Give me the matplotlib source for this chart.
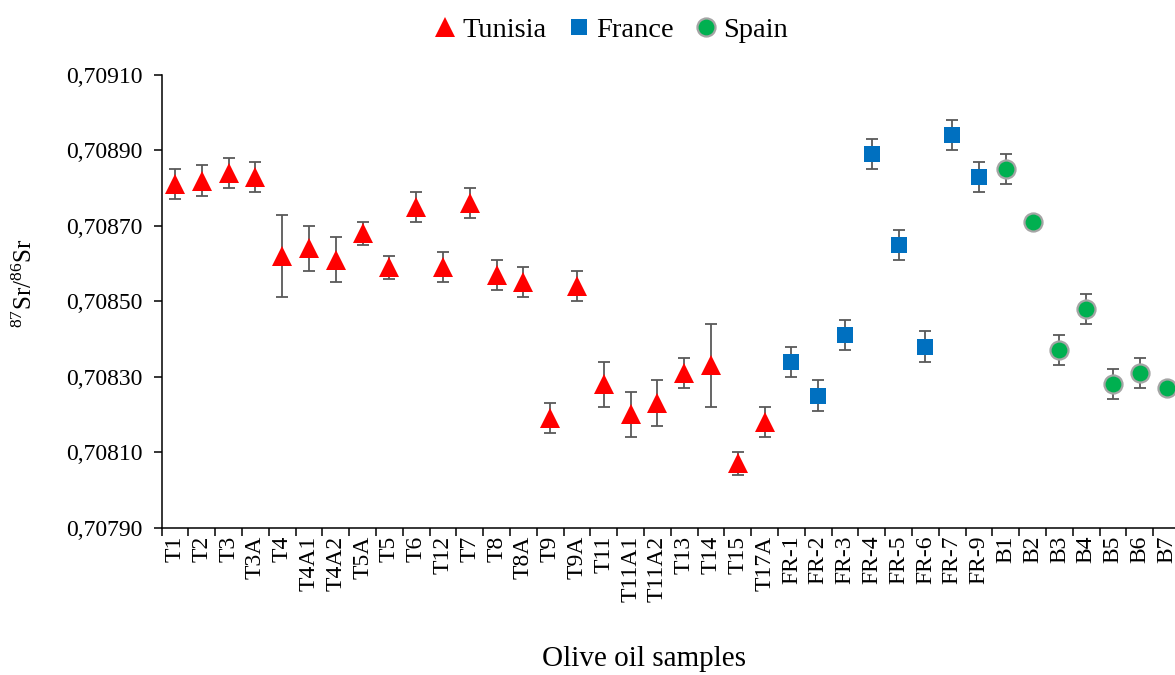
import matplotlib.pyplot as plt
import numpy as np

plt.rcParams['font.family'] = ['Liberation Serif', 'DejaVu Serif']

tun_labels = ["T1", "T2", "T3", "T3A", "T4", "T4A1", "T4A2", "T5A", "T5", "T6", "T12", "T7",
              "T8", "T8A", "T9", "T9A", "T11", "T11A1", "T11A2", "T13", "T14", "T15", "T17A"]
tun_vals = [0.70881, 0.70882, 0.70884, 0.70883, 0.70862, 0.70864, 0.70861, 0.70868, 0.70859,
            0.70875, 0.70859, 0.70876, 0.70857, 0.70855, 0.70819, 0.70854, 0.70828, 0.70820,
            0.70823, 0.70831, 0.70833, 0.70807, 0.70818]
tun_err = [0.00004, 0.00004, 0.00004, 0.00004, 0.00011, 0.00006, 0.00006, 0.00003, 0.00003,
           0.00004, 0.00004, 0.00004, 0.00004, 0.00004, 0.00004, 0.00004, 0.00006, 0.00006,
           0.00006, 0.00004, 0.00011, 0.00003, 0.00004]

fr_labels = ["FR-1", "FR-2", "FR-3", "FR-4", "FR-5", "FR-6", "FR-7", "FR-9"]
fr_vals = [0.70834, 0.70825, 0.70841, 0.70889, 0.70865, 0.70838, 0.70894, 0.70883]
fr_err = [0.00004] * 8

sp_labels = ["B1", "B2", "B3", "B4", "B5", "B6", "B7"]
sp_vals = [0.70885, 0.70871, 0.70837, 0.70848, 0.70828, 0.70831, 0.70827]
sp_err = [0.00004, 0.0, 0.00004, 0.00004, 0.00004, 0.00004, 0.0]

labels = tun_labels + fr_labels + sp_labels
n = len(labels)
x_tun = np.arange(len(tun_labels))
x_fr = np.arange(len(fr_labels)) + len(tun_labels)
x_sp = np.arange(len(sp_labels)) + len(tun_labels) + len(fr_labels)

fig = plt.figure(figsize=(11.75, 6.75), dpi=100)
ax = fig.add_axes([0.1376, 0.2185, 0.8667, 0.6704])

err_kw = dict(fmt='none', ecolor='#595959', elinewidth=1.3, capsize=4.5, capthick=1.3, zorder=2)
ax.errorbar(x_tun, tun_vals, yerr=tun_err, **err_kw)
ax.errorbar(x_fr, fr_vals, yerr=fr_err, **err_kw)
ax.errorbar(x_sp, sp_vals, yerr=sp_err, **err_kw)

ax.plot(x_tun, tun_vals, '^', color='#FF0000', markersize=14, markeredgewidth=0, zorder=3, label='Tunisia')
ax.plot(x_fr, fr_vals, 's', color='#0070C0', markersize=11, markeredgewidth=0, zorder=3, label='France')
ax.plot(x_sp, sp_vals, 'o', color='#00B050', markeredgecolor='#A5A5A5', markersize=13,
        markeredgewidth=1.6, zorder=3, label='Spain')

ax.set_xlim(-0.5, n - 0.5)
ax.set_ylim(0.70790, 0.70910)
yt = np.arange(0.70790, 0.709101, 0.0002)
ax.set_yticks(yt)
ax.set_yticklabels([f"{v:.5f}".replace('.', ',') for v in yt])

# tick marks between categories, labels in the middle
ax.set_xticks(np.arange(n + 1) - 0.5)
ax.set_xticklabels([])
ax.set_xticks(np.arange(n), minor=True)
ax.set_xticklabels(labels, minor=True, rotation=90)
ax.tick_params(axis='x', which='minor', length=0, pad=6, labelsize=17)
ax.tick_params(axis='x', which='major', length=6, width=1.1, direction='out')
ax.tick_params(axis='y', length=6, width=1.1, labelsize=17, pad=8)

for s in ['top', 'right']:
    ax.spines[s].set_visible(False)
for s in ['left', 'bottom']:
    ax.spines[s].set_linewidth(1.1)

ax.set_ylabel(r"$\mathregular{^{87}}$Sr/$\mathregular{^{86}}$Sr", fontsize=18)
ax.yaxis.set_label_coords(-0.1225, 0.54)
fig.text(0.548, 0.024, "Olive oil samples", fontsize=21, ha='center', va='center')

fig.legend(loc='center', bbox_to_anchor=(0.52, 0.956), ncol=3, frameon=False, fontsize=20.5,
           handlelength=0.8, handletextpad=0.2, columnspacing=0.75, borderpad=0)

fig.savefig('out.png', dpi=100)
